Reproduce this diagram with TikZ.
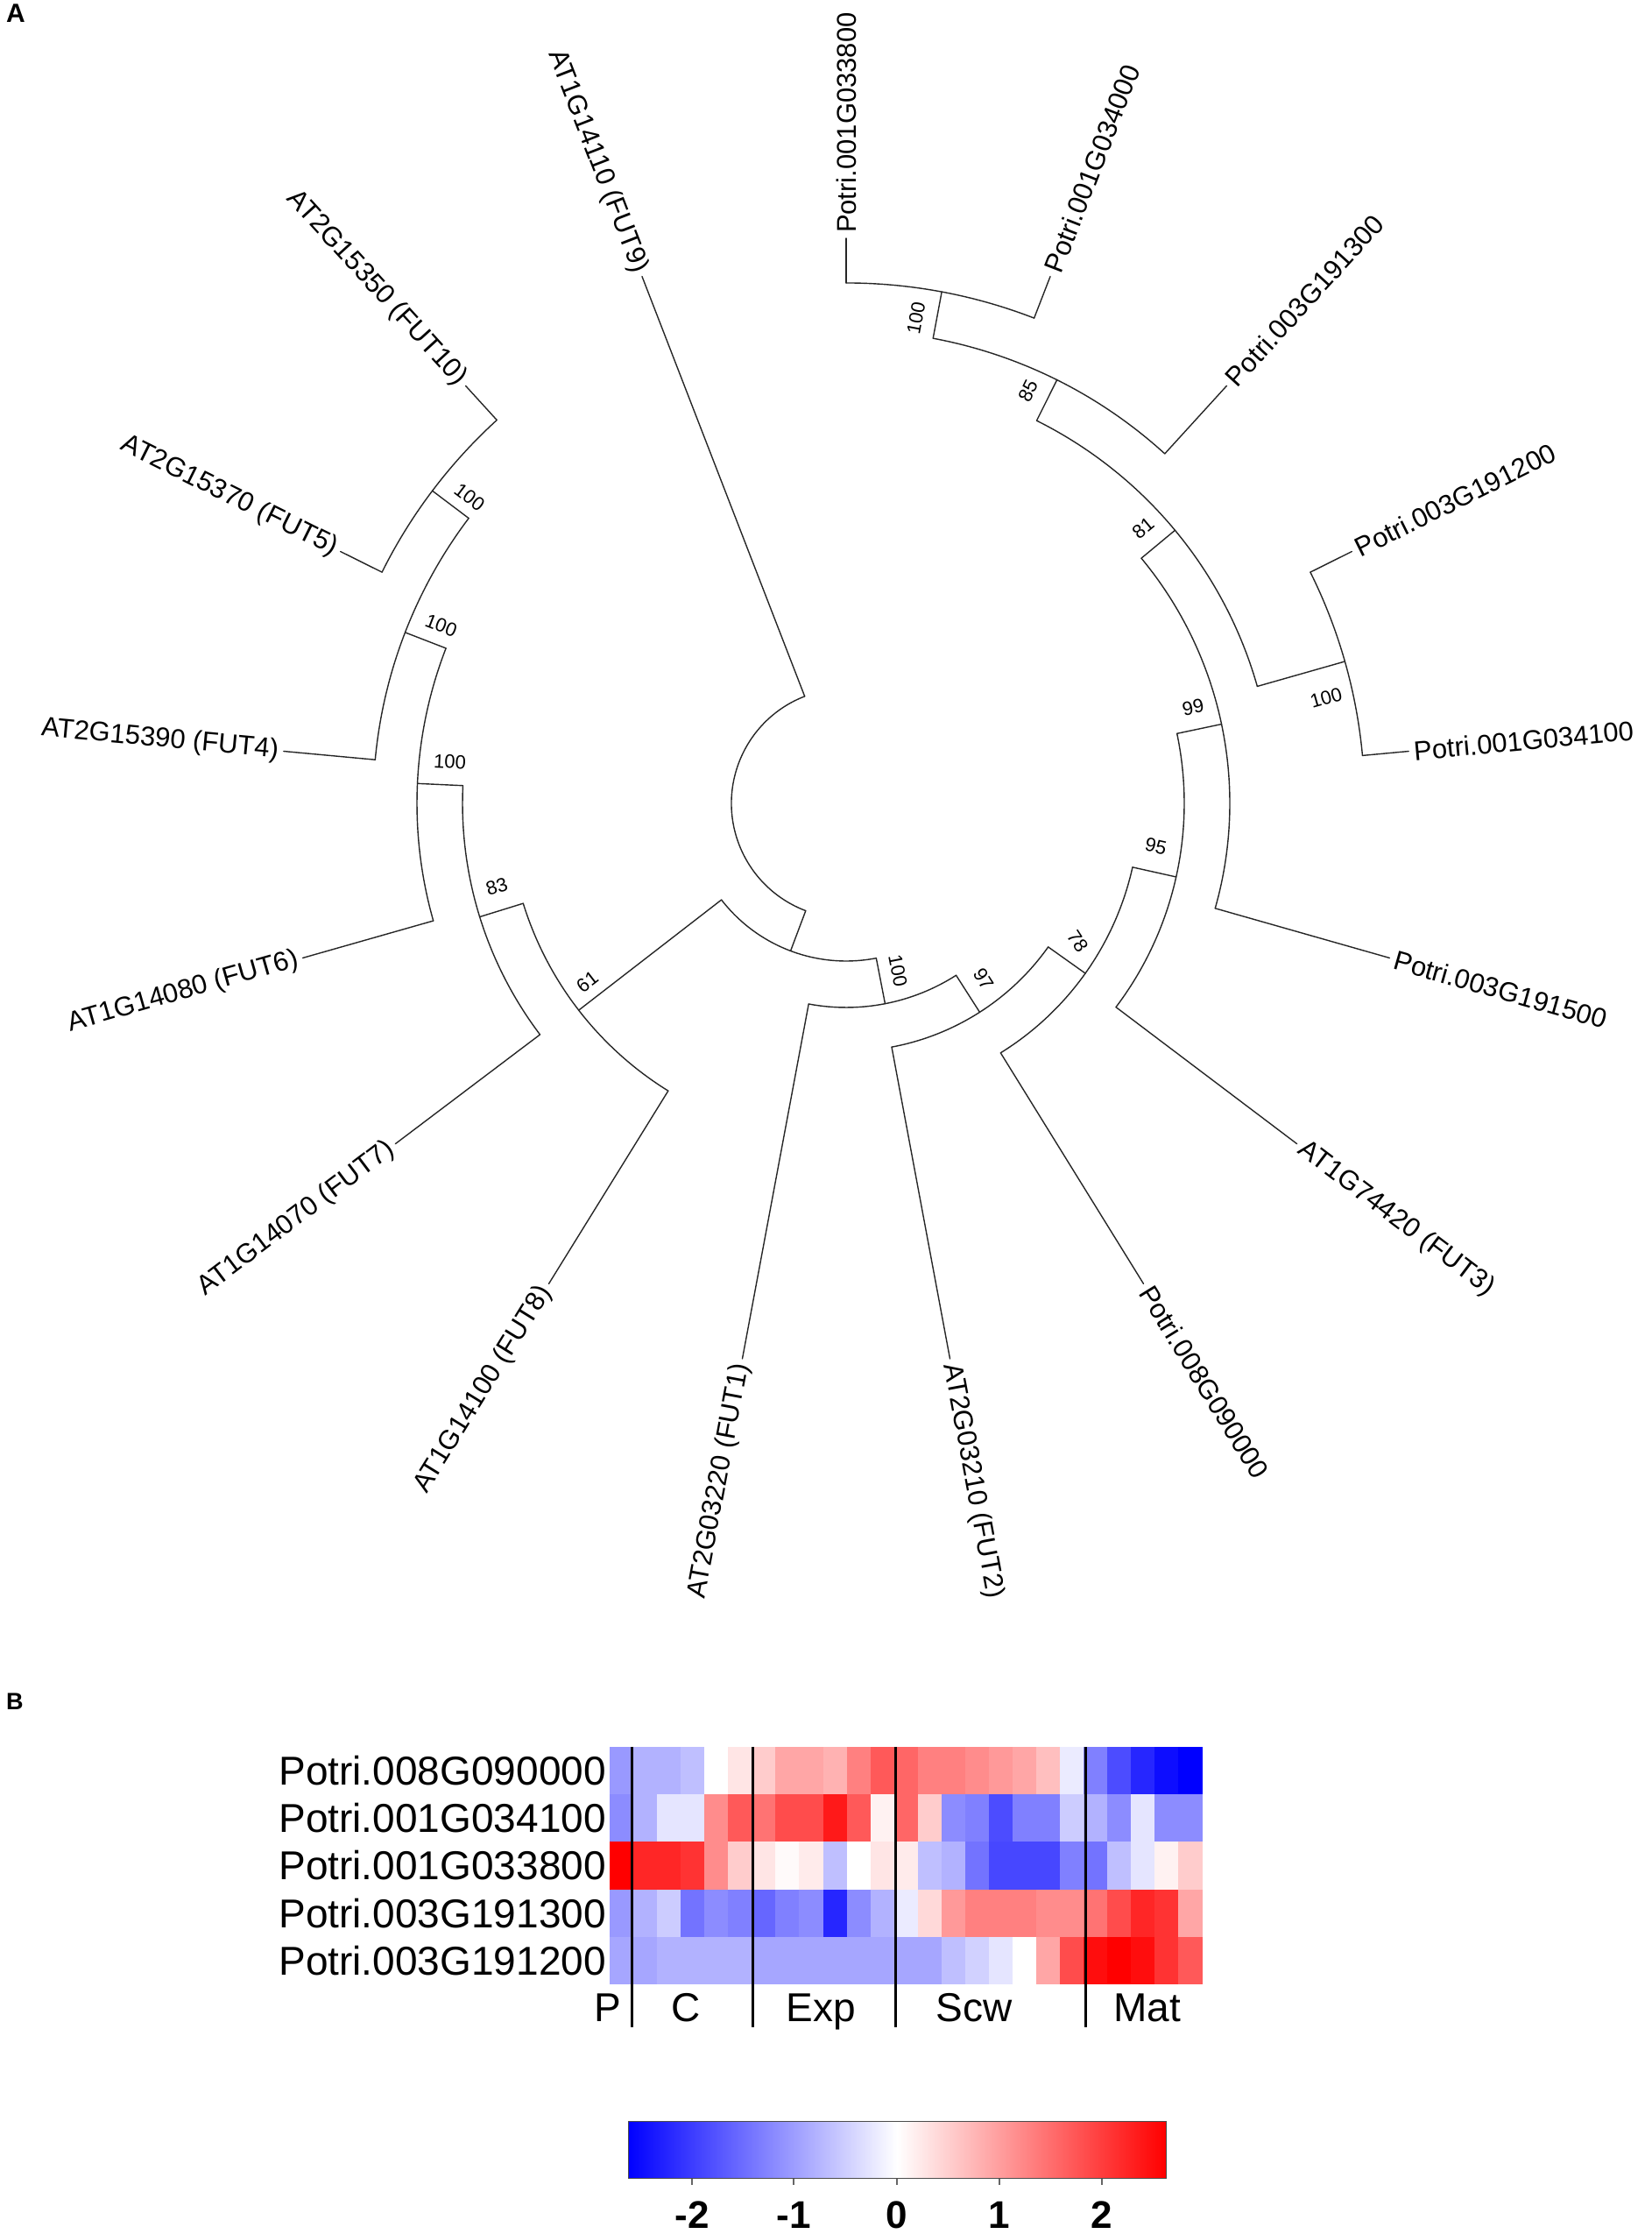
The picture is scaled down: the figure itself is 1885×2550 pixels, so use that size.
\documentclass[tikz,border=0pt]{standalone}
\usepackage{fontspec}
\setmainfont{Liberation Sans}
\begin{document}
\begin{tikzpicture}[x=1pt,y=1pt,
  br/.style={line width=1.4pt, black!85, line cap=round},
  leaf/.style={inner sep=6pt, outer sep=0pt, font=\fontsize{31}{36}\selectfont},
  boot/.style={inner sep=0pt, font=\fontsize{22}{26}\selectfont},
  hm/.style={inner sep=0pt, font=\fontsize{46}{52}\selectfont},
  tick/.style={inner sep=0pt, font=\bfseries\fontsize{44}{50}\selectfont},
  panel/.style={inner sep=0pt, anchor=north west, font=\bfseries\fontsize{30}{34}\selectfont}]
\useasboundingbox (0,0) rectangle (1885,2550);
\node[panel] (pA) at (7,2545) {A};
\node[panel, font=\bfseries\fontsize{27}{30}\selectfont] (pB) at (7,617) {B};

\begin{scope}[shift={(966,1633)}]
% leaf labels
\node[leaf, anchor=west, rotate=90]     (l0)  at (90:645)     {Potri.001G033800};
\node[leaf, anchor=east, rotate=-68.82] (l1)  at (111.18:645) {AT1G14110 (FUT9)};
\node[leaf, anchor=east, rotate=-47.65] (l2)  at (132.35:645) {AT2G15350 (FUT10)};
\node[leaf, anchor=east, rotate=-26.47] (l3)  at (153.53:645) {AT2G15370 (FUT5)};
\node[leaf, anchor=east, rotate=-5.29]  (l4)  at (174.71:645) {AT2G15390 (FUT4)};
\node[leaf, anchor=east, rotate=15.88]  (l5)  at (195.88:645) {AT1G14080 (FUT6)};
\node[leaf, anchor=east, rotate=37.06]  (l6)  at (217.06:645) {AT1G14070 (FUT7)};
\node[leaf, anchor=east, rotate=58.24]  (l7)  at (238.24:645) {AT1G14100 (FUT8)};
\node[leaf, anchor=east, rotate=79.41]  (l8)  at (259.41:645) {AT2G03220 (FUT1)};
\node[leaf, anchor=west, rotate=-79.41] (l9)  at (280.59:645) {AT2G03210 (FUT2)};
\node[leaf, anchor=west, rotate=-58.24] (l10) at (301.76:645) {Potri.008G090000};
\node[leaf, anchor=west, rotate=-37.06] (l11) at (322.94:645) {AT1G74420 (FUT3)};
\node[leaf, anchor=west, rotate=-15.88] (l12) at (344.12:645) {Potri.003G191500};
\node[leaf, anchor=west, rotate=5.29]   (l13) at (5.29:645)   {Potri.001G034100};
\node[leaf, anchor=west, rotate=26.47]  (l14) at (26.47:645)  {Potri.003G191200};
\node[leaf, anchor=west, rotate=47.65]  (l15) at (47.65:645)  {Potri.003G191300};
\node[leaf, anchor=west, rotate=68.82]  (l16) at (68.82:645)  {Potri.001G034000};

% internal nodes
\coordinate (nA) at (249.36:180);
\coordinate (nB) at (281.0:233);
\coordinate (nD) at (302.6:283);
\coordinate (nE) at (324.6:335);
\coordinate (nF) at (347.43:386);
\coordinate (nG) at (371.91:438);
\coordinate (nH) at (399.7:488);
\coordinate (nI) at (375.88:592);
\coordinate (nJ) at (423.53:540);
\coordinate (nK) at (439.41:594);
\coordinate (nL) at (217.72:386);
\coordinate (nM) at (197.21:438);
\coordinate (nN) at (177.35:490);
\coordinate (nO) at (158.82:540);
\coordinate (nP) at (142.94:592);

% arcs
\foreach \r/\a/\b in {131/111.18/249.36, 180/217.72/281.0, 233/259.41/302.6,
  283/280.59/324.6, 335/301.76/347.43, 386/322.94/371.91, 438/344.12/399.7,
  488/375.88/423.53, 592/365.29/386.47, 540/407.65/439.41, 594/428.82/450,
  386/197.21/238.24, 438/177.35/217.06, 490/158.82/195.88, 540/142.94/174.71,
  592/132.35/153.53}
  \draw[br] (\a:\r) arc[start angle=\a, end angle=\b, radius=\r pt];

% radial branches to internal nodes
\draw[br] (249.36:131) -- (nA);
\draw[br] (217.72:180) -- (nL);
\draw[br] (281.0:180) -- (nB);
\draw[br] (302.6:233) -- (nD);
\draw[br] (324.6:283) -- (nE);
\draw[br] (347.43:335) -- (nF);
\draw[br] (371.91:386) -- (nG);
\draw[br] (399.7:438) -- (nH);
\draw[br] (375.88:488) -- (nI);
\draw[br] (423.53:488) -- (nJ);
\draw[br] (439.41:540) -- (nK);
\draw[br] (197.21:386) -- (nM);
\draw[br] (177.35:438) -- (nN);
\draw[br] (158.82:490) -- (nO);
\draw[br] (142.94:540) -- (nP);

% leaf branches
\draw[br] (90:594) -- (l0.west);
\draw[br] (111.18:131) -- (l1.east);
\draw[br] (132.35:592) -- (l2.east);
\draw[br] (153.53:592) -- (l3.east);
\draw[br] (174.71:540) -- (l4.east);
\draw[br] (195.88:490) -- (l5.east);
\draw[br] (217.06:438) -- (l6.east);
\draw[br] (238.24:386) -- (l7.east);
\draw[br] (259.41:233) -- (l8.east);
\draw[br] (280.59:283) -- (l9.west);
\draw[br] (301.76:335) -- (l10.west);
\draw[br] (322.94:386) -- (l11.west);
\draw[br] (344.12:438) -- (l12.west);
\draw[br] (5.29:592) -- (l13.west);
\draw[br] (26.47:592) -- (l14.west);
\draw[br] (47.65:540) -- (l15.west);
\draw[br] (68.82:594) -- (l16.west);

% bootstrap values
\node[boot, rotate=79.4]  (bK) at (81.8:560)  {100};
\node[boot, rotate=63.5]  (bJ) at (66.2:515)  {85};
\node[boot, rotate=39.7]  (bH) at (42.8:462)  {81};
\node[boot, rotate=11.9]  (bG) at (15.5:411)  {99};
\node[boot, rotate=15.9]  (bI) at (12.4:561)  {100};
\node[boot, rotate=-12.6] (bF) at (-7.9:357)  {95};
\node[boot, rotate=-57]   (bE) at (-30.8:308) {78};
\node[boot, rotate=-57.4] (bD) at (-52:255)   {97};
\node[boot, rotate=-79]   (bB) at (-72.8:200) {100};
\node[boot, rotate=37.7]  (bL) at (214.6:359) {61};
\node[boot, rotate=17.2]  (bM) at (193.4:410) {83};
\node[boot, rotate=-2.65] (bN) at (174:455)   {100};
\node[boot, rotate=-21.2] (bO) at (156.3:505) {100};
\node[boot, rotate=-37.1] (bP) at (140.9:554) {100};
\end{scope}

% heatmap
\foreach \vals [count=\r from 0] in {
  {-40,-30,-30,-25,0,10,20,35,35,30,50,65,60,50,50,45,40,35,25,-8,-50,-70,-85,-95,-100},
  {-45,-30,-10,-10,45,65,55,70,70,90,65,5,60,20,-45,-50,-70,-50,-50,-20,-30,-45,-10,-45,-45},
  {100,85,85,80,45,20,10,2,8,-25,0,10,8,-25,-30,-55,-72,-72,-72,-50,-55,-25,-10,5,20},
  {-40,-30,-20,-55,-45,-50,-60,-50,-45,-85,-45,-30,-8,15,40,50,50,50,45,45,55,70,85,80,35},
  {-35,-35,-30,-30,-30,-30,-35,-35,-35,-35,-35,-35,-35,-35,-25,-18,-10,0,35,70,95,100,95,80,65}} {
  \foreach \v [count=\c from 0] in \vals {
    \pgfmathsetmacro\xa{696+27.06*\c}
    \pgfmathsetmacro\ya{556-54.2*\r}
    \pgfmathtruncatemacro\aa{abs(\v)}
    \ifnum\v<0 \colorlet{hmcc}{blue!\aa!white}\else\colorlet{hmcc}{red!\aa!white}\fi
    \fill[hmcc] (\xa,\ya) rectangle ++(27.4,-54.5);
  }
}
\node[hm, anchor=east] (r0) at (692,528.9) {Potri.008G090000};
\node[hm, anchor=east] (r1) at (692,474.7) {Potri.001G034100};
\node[hm, anchor=east] (r2) at (692,420.5) {Potri.001G033800};
\node[hm, anchor=east] (r3) at (692,366.3) {Potri.003G191300};
\node[hm, anchor=east] (r4) at (692,312.1) {Potri.003G191200};
\foreach \x in {721,859,1022,1239}
  \draw[line width=3pt] (\x,556) -- (\x,236);
\node[hm, anchor=base] (cP) at (694,242) {P};
\node[hm, anchor=base] (cC) at (783,242) {C};
\node[hm, anchor=base] (cE) at (937,242) {Exp};
\node[hm, anchor=base] (cS) at (1112,242) {Scw};
\node[hm, anchor=base] (cM) at (1310,242) {Mat};

% colour bar
\shade[left color=blue, right color=red, middle color=white] (717,63) rectangle (1331,128);
\draw[black!70, line width=1pt] (717,63) rectangle (1331,128);
\foreach \x/\t in {790/-2, 906/-1, 1024/0, 1141/1, 1258/2} {
  \draw[black!60, line width=2pt] (\x,63) -- (\x,56);
  \node[tick, anchor=base] at (\x,6) {\t};
}
\end{tikzpicture}
\end{document}
